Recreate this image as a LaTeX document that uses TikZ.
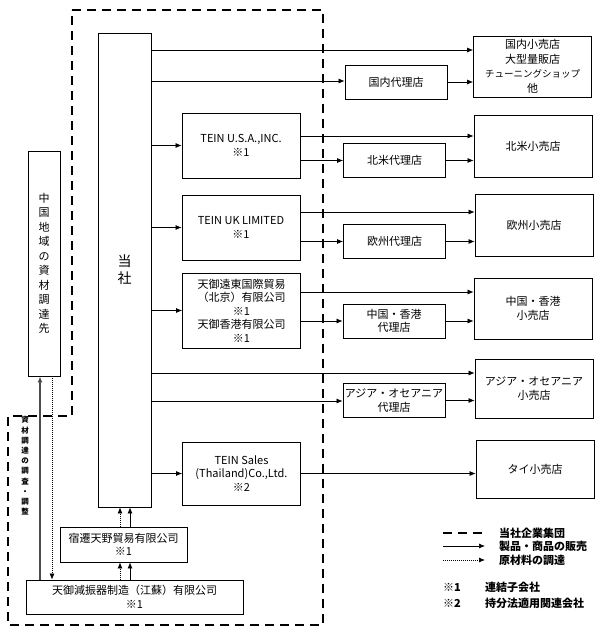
\documentclass[tikz,border=0pt]{standalone}
\usepackage{fontspec}
\setmainfont{Noto Sans CJK JP}
\usetikzlibrary{positioning,arrows.meta,calc}

\begin{document}
\begin{tikzpicture}[
    x=1pt, y=-1pt,
    box/.style={rectangle, draw, line width=0.8pt, align=center, inner sep=1pt, font=\fontsize{11}{13.5}\selectfont},
    sub/.style={box, minimum width=118pt, minimum height=65pt},
    agent/.style={box, minimum width=102pt, minimum height=34pt},
    shop/.style={box, minimum width=118pt, minimum height=61pt},
    arrow/.style={-{Latex[length=6pt,width=5pt]}, line width=0.7pt},
    supply/.style={arrow, dash pattern=on 1pt off 1pt},
    group/.style={line width=2.6pt, dash pattern=on 9pt off 6pt},
    legend/.style={anchor=west, inner sep=0pt, font=\bfseries\fontsize{11}{12}\selectfont}
]
\useasboundingbox (0,0) rectangle (604,634);

\draw[group] (72,10) -- (323,10) -- (323,625) -- (8,625) -- (8,416) -- (72,416) -- cycle;

\node[box, minimum width=53pt, minimum height=474pt, font=\fontsize{14}{17}\selectfont] (tosha) at (124.5,270) {当\\社};
\node[box, minimum width=32pt, minimum height=225pt, font=\fontsize{11}{14.5}\selectfont] (china) at (44,263.5) {中\\国\\地\\域\\の\\資\\材\\調\\達\\先};
\node[inner sep=0pt, align=center, font=\bfseries\fontsize{7.5}{10.2}\selectfont] (survey) at (25,466) {資\\材\\調\\達\\の\\調\\査\\・\\調\\整};

\node[sub] (usa) at (241,145.5) {TEIN U.S.A.,INC.\\※1};
\node[sub] (uk) at (241,227.5) {TEIN UK LIMITED\\※1};
\node[sub, minimum height=75pt] (cn) at (241.5,310.5) {天御遠東国際貿易\\（北京）有限公司\\※1\\天御香港有限公司\\※1};
\node[sub, minimum height=63pt] (thai) at (241.5,473.5) {TEIN Sales\\(Thailand)Co.,Ltd.\\※2};
\node[box, minimum width=127pt, minimum height=35pt] (shukusen) at (123.5,544.5) {宿遷天野貿易有限公司\\※1};
\node[box, minimum width=217pt, minimum height=34pt] (kojo) at (134.5,597) {天御減振器制造（江蘇）有限公司\\※1};

\node[agent] (jpagent) at (396,82) {国内代理店};
\node[agent] (naagent) at (394.5,160.5) {北米代理店};
\node[agent] (euagent) at (394.5,241.5) {欧州代理店};
\node[agent] (cnagent) at (394,321) {中国・香港\\代理店};
\node[agent] (asagent) at (394,400.5) {アジア・オセアニア\\代理店};

\node[shop, font=\fontsize{11}{14.5}\selectfont] (jpshop) at (532.5,66.5) {国内小売店\\大型量販店\\{\fontsize{9.5}{14.5}\selectfont チューニングショップ}\\他};
\node[shop, minimum height=62pt] (nashop) at (533,146) {北米小売店};
\node[shop, minimum height=62pt] (eushop) at (534,225) {欧州小売店};
\node[shop] (cnshop) at (533,308.5) {中国・香港\\小売店};
\node[shop, minimum height=59pt] (asshop) at (534,388.5) {アジア・オセアニア\\小売店};
\node[shop, minimum height=58pt] (thshop) at (535,469) {タイ小売店};

\foreach \y/\dst in {50/jpshop, 81/jpagent, 373/asshop, 401/asagent}
  \draw[arrow] (tosha.east |- 0,\y) -- (\dst.west |- 0,\y);
\foreach \dst in {usa, uk, cn, thai}
  \draw[arrow] (tosha.east |- \dst.west) -- (\dst.west);
\foreach \sub/\y/\a/\s in {usa/136/naagent/nashop, uk/212/euagent/eushop, cn/292/cnagent/cnshop}{
  \draw[arrow] (\sub.east |- 0,\y) -- (\s.west |- 0,\y);
  \draw[arrow] (\sub.east |- \a.west) -- (\a.west);
}
\foreach \a/\s in {jpagent/jpshop, naagent/nashop, euagent/eushop, cnagent/cnshop, asagent/asshop}
  \draw[arrow] (\a.east) -- (\a.east -| \s.west);
\draw[arrow] (thai.east) -- (thai.east -| thshop.west);

\draw[arrow] (shukusen.north -| 130,0) -- (tosha.south -| 130,0);
\draw[supply] (shukusen.north -| 120,0) -- (tosha.south -| 120,0);
\draw[arrow] (kojo.north -| 130,0) -- (shukusen.south -| 130,0);
\draw[supply] (kojo.north -| 120,0) -- (shukusen.south -| 120,0);
\draw[arrow, line width=2pt, gray!60!black] (kojo.north -| 40,0) -- (china.south -| 40,0);
\draw[supply] (china.south -| 52,0) -- (kojo.north -| 52,0);

\coordinate (groupa) at (443,533);
\coordinate (groupb) at (485,533);
\coordinate (salea) at (443,546);
\coordinate (saleb) at (485,546);
\coordinate (matla) at (443,560);
\coordinate (matlb) at (485,560);
\draw[group, line width=2.2pt] (groupa) -- (groupb);
\draw[arrow] (salea) -- (saleb);
\draw[supply] (matla) -- (matlb);
\node[legend] (grouptxt) at (499,533) {当社企業集団};
\node[legend] (saletxt) at (499,546) {製品・商品の販売};
\node[legend] (matltxt) at (499,560) {原材料の調達};
\node[legend] (note1) at (443,587) {\makebox[42pt][l]{※1}連結子会社};
\node[legend] (note2) at (443,603) {\makebox[42pt][l]{※2}持分法適用関連会社};
\end{tikzpicture}
\end{document}
